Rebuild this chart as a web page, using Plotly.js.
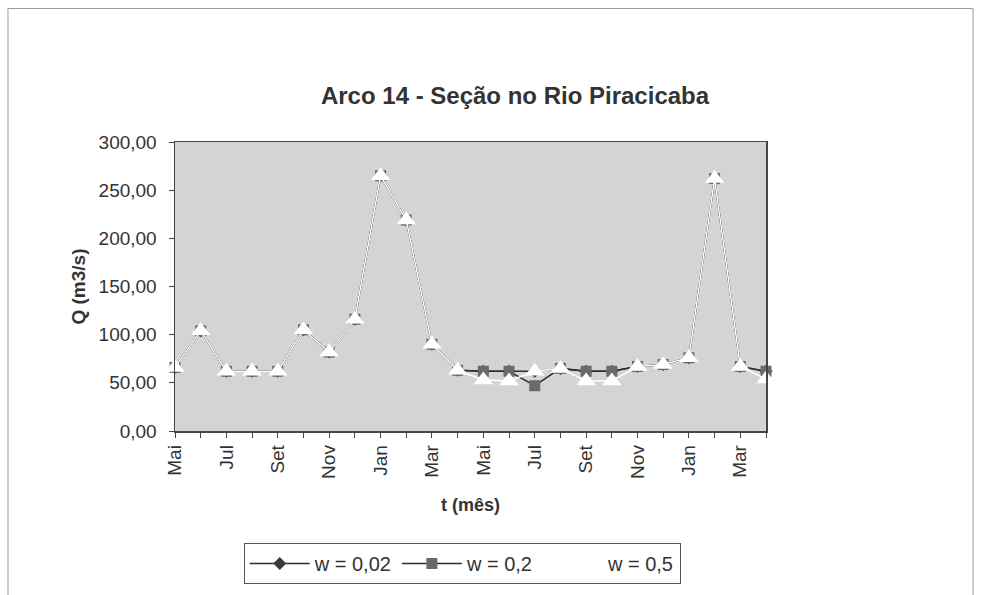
<!DOCTYPE html>
<html>
<head>
<meta charset="utf-8">
<script src="https://cdn.plot.ly/plotly-3.0.1.min.js"></script>
<style>html,body{margin:0;padding:0;background:#fff;}</style>
</head>
<body>
<div id="chart" style="width:981px;height:595px;"></div>
<script>
const months = ['Mai','Jun','Jul','Ago','Set','Out','Nov','Dez','Jan','Fev','Mar','Abr',
                'Mai','Jun','Jul','Ago','Set','Out','Nov','Dez','Jan','Fev','Mar','Abr'];
const w002 = [66,104,62,62,62,105,82,116,265,219,90,63, 62,62,62,65,62,62,67,69,76,262,67,62];
const w02  = [66,104,62,62,62,105,82,116,265,219,90,63, 62,62,47,65,62,62,67,69,76,262,67,62];
const w05  = [66,104,62,62,62,105,82,116,265,219,90,63, 53,52,62,65,52,52,67,69,76,262,67,54];
const seriesNames = ['w = 0,02','w = 0,2','w = 0,5'];
const yTicks = [0,50,100,150,200,250,300];

const xIdx = months.map((m,i)=>i);
const tickText = months.map((m,i)=> i%2===0 ? m : '');
const FONT = 'Liberation Sans, Arial, sans-serif';
const TXT = '#333';

const traces = [
  {x:xIdx, y:w002, name:seriesNames[0], mode:'lines+markers', cliponaxis:false,
   line:{color:'#2e2e2e', width:1.5},
   marker:{symbol:'diamond', size:10, color:'#3a3a3a'}},
  {x:xIdx, y:w02, name:seriesNames[1], mode:'lines+markers', cliponaxis:false,
   line:{color:'#2e2e2e', width:1.5},
   marker:{symbol:'square', size:11, color:'#6a6a6a'}},
  {x:xIdx, y:w05, name:seriesNames[2], mode:'lines+markers', cliponaxis:false,
   line:{color:'#ffffff', width:1.5},
   marker:{symbol:'triangle-up', size:17, color:'#ffffff'}}
];

const layout = {
  width:981, height:595,
  margin:{l:175, r:215, t:142, b:163},
  paper_bgcolor:'#ffffff',
  plot_bgcolor:'#d4d4d4',
  separators:',.',
  font:{family:FONT, color:TXT, size:19},
  title:{text:'<b>Arco 14 - Seção no Rio Piracicaba</b>', font:{family:FONT, size:24, color:TXT},
         x:0.525, xref:'container', xanchor:'center', y:0.839, yref:'container', yanchor:'middle'},
  xaxis:{range:[0,23], tickmode:'array', tickvals:xIdx, ticktext:tickText, tickangle:-90,
         ticks:'outside', ticklen:5, tickcolor:'#444', showline:true, linecolor:'#444', linewidth:1.5,
         mirror:true, showgrid:false, zeroline:false, tickfont:{family:FONT, size:19, color:TXT},
         title:{text:'<b>t (mês)</b>', font:{family:FONT, size:18, color:TXT}, standoff:20}},
  yaxis:{range:[0,300], tickmode:'array', tickvals:yTicks, tickformat:'.2f',
         ticks:'outside', ticklen:5, tickcolor:'#444', showline:true, linecolor:'#444', linewidth:1.5,
         mirror:true, showgrid:false, zeroline:false, tickfont:{family:FONT, size:19, color:TXT},
         ticklabelstandoff:8,
         title:{text:'<b>Q (m3/s)</b>', font:{family:FONT, size:19, color:TXT}, standoff:8}},
  showlegend:true,
  legend:{orientation:'h', x:0.486, xanchor:'center', y:-0.383, yanchor:'top',
          bordercolor:'#555', borderwidth:1, bgcolor:'#ffffff', itemwidth:60,
          font:{family:FONT, size:20, color:TXT}, traceorder:'normal'},
  shapes:[{type:'rect', xref:'paper', yref:'paper', x0:-0.2826, x1:1.3503, y0:-0.6, y1:1.462,
           line:{color:'#999', width:1}, fillcolor:'rgba(0,0,0,0)', layer:'below'}]
};

Plotly.newPlot('chart', traces, layout, {displayModeBar:false, staticPlot:true});
</script>
</body>
</html>
